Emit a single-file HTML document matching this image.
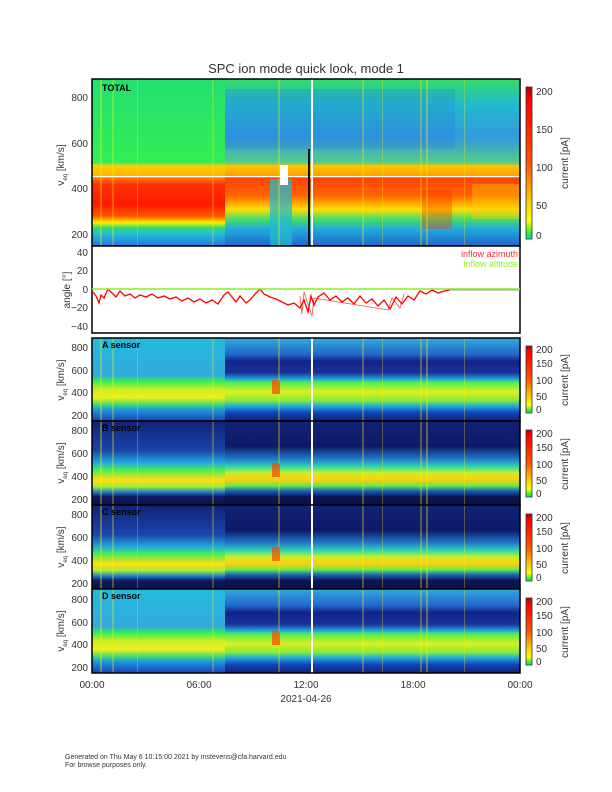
<!DOCTYPE html>
<html><head><meta charset="utf-8"><style>
html,body{margin:0;background:#fff;overflow:hidden;width:612px;height:792px}
svg{display:block}
text{font-family:"Liberation Sans",sans-serif;fill:#333}
</style></head><body>
<svg width="612" height="792" viewBox="0 0 612 792" xmlns="http://www.w3.org/2000/svg">
<defs>
<linearGradient id="tL" x1="0" y1="0" x2="0" y2="1">
<stop offset="0" stop-color="#22e070"/><stop offset="0.5" stop-color="#33ee55"/>
<stop offset="0.52" stop-color="#ffcc00"/><stop offset="0.58" stop-color="#ff9900"/>
<stop offset="0.63" stop-color="#ff3300"/><stop offset="0.75" stop-color="#ff1a00"/>
<stop offset="0.82" stop-color="#ff5500"/><stop offset="0.86" stop-color="#ffee00"/>
<stop offset="0.89" stop-color="#33dd66"/><stop offset="0.93" stop-color="#22bbdd"/>
<stop offset="1" stop-color="#2277dd"/></linearGradient>
<linearGradient id="tR" x1="0" y1="0" x2="0" y2="1">
<stop offset="0" stop-color="#33dd66"/><stop offset="0.15" stop-color="#22bbcc"/>
<stop offset="0.35" stop-color="#3399dd"/><stop offset="0.5" stop-color="#55cc88"/>
<stop offset="0.52" stop-color="#ffbb00"/><stop offset="0.6" stop-color="#ff4400"/>
<stop offset="0.7" stop-color="#ff6600"/><stop offset="0.78" stop-color="#ffdd00"/>
<stop offset="0.84" stop-color="#44dd66"/><stop offset="0.9" stop-color="#22aadd"/>
<stop offset="1" stop-color="#2266cc"/></linearGradient>
<linearGradient id="aL" x1="0" y1="0" x2="0" y2="1">
<stop offset="0" stop-color="#22bbdd"/><stop offset="0.45" stop-color="#33aadd"/>
<stop offset="0.52" stop-color="#33ee55"/><stop offset="0.62" stop-color="#ccee22"/>
<stop offset="0.72" stop-color="#eeee22"/><stop offset="0.8" stop-color="#44dd66"/>
<stop offset="0.86" stop-color="#2299dd"/><stop offset="1" stop-color="#1144bb"/></linearGradient>
<linearGradient id="aR" x1="0" y1="0" x2="0" y2="1">
<stop offset="0" stop-color="#33aadd"/><stop offset="0.2" stop-color="#2266cc"/>
<stop offset="0.28" stop-color="#112288"/><stop offset="0.42" stop-color="#1a3399"/>
<stop offset="0.5" stop-color="#22aadd"/><stop offset="0.53" stop-color="#44ee55"/>
<stop offset="0.65" stop-color="#ddee22"/><stop offset="0.75" stop-color="#88ee33"/>
<stop offset="0.82" stop-color="#22aadd"/><stop offset="0.9" stop-color="#1144bb"/>
<stop offset="1" stop-color="#112277"/></linearGradient>
<linearGradient id="bL" x1="0" y1="0" x2="0" y2="1">
<stop offset="0" stop-color="#112277"/><stop offset="0.35" stop-color="#1a44aa"/>
<stop offset="0.5" stop-color="#22aadd"/><stop offset="0.58" stop-color="#44ee55"/>
<stop offset="0.7" stop-color="#ffdd11"/><stop offset="0.78" stop-color="#aaee33"/>
<stop offset="0.84" stop-color="#2288cc"/><stop offset="0.9" stop-color="#111a66"/>
<stop offset="1" stop-color="#0a1044"/></linearGradient>
<linearGradient id="bR" x1="0" y1="0" x2="0" y2="1">
<stop offset="0" stop-color="#112277"/><stop offset="0.3" stop-color="#0d1a66"/>
<stop offset="0.45" stop-color="#2277cc"/><stop offset="0.55" stop-color="#33ddaa"/>
<stop offset="0.62" stop-color="#ccee22"/><stop offset="0.7" stop-color="#ffcc11"/>
<stop offset="0.77" stop-color="#66ee44"/><stop offset="0.83" stop-color="#1a66bb"/>
<stop offset="0.9" stop-color="#0d1555"/><stop offset="1" stop-color="#0a1044"/></linearGradient>
<linearGradient id="cb" x1="0" y1="0" x2="0" y2="1">
<stop offset="0" stop-color="#aa0000"/><stop offset="0.08" stop-color="#ff0000"/>
<stop offset="0.5" stop-color="#ff5500"/><stop offset="0.75" stop-color="#ffcc00"/>
<stop offset="0.88" stop-color="#ffff00"/><stop offset="0.96" stop-color="#33ee33"/>
<stop offset="1" stop-color="#00dd99"/></linearGradient>
<g id="streaks">
<rect x="8" y="0" width="2" height="84" fill="#ffee00" opacity="0.35"/>
<rect x="20" y="0" width="2" height="84" fill="#ffee00" opacity="0.3"/>
<rect x="45" y="0" width="1" height="84" fill="#ffee00" opacity="0.3"/>
<rect x="120" y="0" width="2" height="84" fill="#ffee00" opacity="0.25"/>
<rect x="186" y="0" width="2" height="84" fill="#ffee00" opacity="0.3"/>
<rect x="270" y="0" width="2" height="84" fill="#ffee00" opacity="0.3"/>
<rect x="290" y="0" width="1" height="84" fill="#ffee00" opacity="0.3"/>
<rect x="328" y="0" width="2" height="84" fill="#ffee00" opacity="0.3"/>
<rect x="334" y="0" width="2" height="84" fill="#ffee00" opacity="0.35"/>
<rect x="372" y="0" width="1" height="84" fill="#ffee00" opacity="0.3"/>
</g>
</defs>

<text x="306" y="73" font-size="13" text-anchor="middle" fill="#555">SPC ion mode quick look, mode 1</text>

<!-- TOTAL panel -->
<g transform="translate(92,79)">
<rect width="133" height="167" fill="url(#tL)"/>
<rect x="133" width="295" height="167" fill="url(#tR)"/>
<rect x="0" y="86" width="428" height="12" fill="#ffcc00" opacity="0.6"/>
<rect x="178" y="100" width="22" height="67" fill="#22bbcc" opacity="0.75"/>
<rect x="330" y="110" width="30" height="40" fill="#ff3300" opacity="0.35"/>
<rect x="380" y="105" width="48" height="35" fill="#ffcc00" opacity="0.4"/>
<rect x="133" y="10" width="230" height="60" fill="#2277dd" opacity="0.25"/>
<rect x="188" y="86" width="8" height="20" fill="#fff"/>
<rect x="0" y="97" width="428" height="1.2" fill="#fff"/>
<use href="#streaks" transform="scale(1,1.99)"/>
<rect x="219" y="0" width="2" height="167" fill="#fff"/>
<rect x="216" y="70" width="2" height="97" fill="#111"/>
<rect width="428" height="167" fill="none" stroke="#000" stroke-width="1.5"/>
<text x="10" y="12" font-size="9" font-weight="bold" style="fill:#000">TOTAL</text>
</g>

<!-- angle panel -->
<g>
<rect x="92" y="246" width="428" height="87" fill="#fff" stroke="#000" stroke-width="1.5"/>
<polyline fill="none" stroke="#f00" stroke-width="1.3" points="93,292 96,296 99,303 101,295 104,298 108,289 112,293 116,297 120,291 125,296 130,294 135,298 140,295 146,297 152,294 158,298 164,296 170,299 176,297 182,301 188,298 194,302 200,299 206,303 212,300 218,304 224,295 228,292 232,297 236,302 240,296 246,303 250,300 256,293 260,289 264,294 270,297 276,299 282,302 288,305 294,303 300,308 304,300 308,312 311,296 314,305 318,297 324,293 330,300 336,296 342,302 348,298 354,304 360,296 366,303 372,299 378,306 384,300 390,309 396,297 402,304 408,296 414,300 420,291 426,294 432,290 438,293 444,291 450,290"/>
<polyline fill="none" stroke="#f00" stroke-width="0.8" opacity="0.7" points="300,296 302,314 304,292 312,316 314,298 388,310 392,298 400,308 404,294"/>
<line x1="450" y1="290" x2="520" y2="290" stroke="#777" stroke-width="0.8"/>
<line x1="92" y1="289" x2="520" y2="289" stroke="#88ee22" stroke-width="1.5"/>
<text x="518" y="257" font-size="9" text-anchor="end" style="fill:#f33">inflow azimuth</text>
<text x="518" y="267" font-size="9" text-anchor="end" style="fill:#9e3">inflow altitude</text>
<g font-size="10" text-anchor="end">
<text x="88" y="256">40</text><text x="88" y="274">20</text><text x="88" y="293">0</text>
<text x="88" y="311">−20</text><text x="88" y="330">−40</text>
</g>
<text transform="translate(70,290) rotate(-90)" font-size="10" text-anchor="middle">angle [°]</text>
</g>

<!-- sensor panels -->
<g transform="translate(92,338)">
<rect width="133" height="83" fill="url(#aL)"/><rect x="133" width="295" height="83" fill="url(#aR)"/>
<use href="#streaks"/>
<rect x="180" y="42" width="8" height="14" fill="#ff4400" opacity="0.7"/>
<rect x="219" width="2" height="83" fill="#fff"/>
<rect width="428" height="83" fill="none" stroke="#000" stroke-width="1.5"/>
<text x="10" y="10" font-size="9" font-weight="bold" style="fill:#000">A sensor</text></g>
<g transform="translate(92,421)">
<rect width="133" height="84" fill="url(#bL)"/><rect x="133" width="295" height="84" fill="url(#bR)"/>
<use href="#streaks"/>
<rect x="180" y="42" width="8" height="14" fill="#ff4400" opacity="0.7"/>
<rect x="219" width="2" height="84" fill="#fff"/>
<rect width="428" height="84" fill="none" stroke="#000" stroke-width="1.5"/>
<text x="10" y="10" font-size="9" font-weight="bold" style="fill:#000">B sensor</text></g>
<g transform="translate(92,505)">
<rect width="133" height="84" fill="url(#bL)"/><rect x="133" width="295" height="84" fill="url(#bR)"/>
<use href="#streaks"/>
<rect x="180" y="42" width="8" height="14" fill="#ff4400" opacity="0.7"/>
<rect x="219" width="2" height="84" fill="#fff"/>
<rect width="428" height="84" fill="none" stroke="#000" stroke-width="1.5"/>
<text x="10" y="10" font-size="9" font-weight="bold" style="fill:#000">C sensor</text></g>
<g transform="translate(92,589)">
<rect width="133" height="84" fill="url(#aL)"/><rect x="133" width="295" height="84" fill="url(#aR)"/>
<use href="#streaks"/>
<rect x="180" y="42" width="8" height="14" fill="#ff4400" opacity="0.7"/>
<rect x="219" width="2" height="84" fill="#fff"/>
<rect width="428" height="84" fill="none" stroke="#000" stroke-width="1.5"/>
<text x="10" y="10" font-size="9" font-weight="bold" style="fill:#000">D sensor</text></g>

<!-- y labels -->
<g font-size="10" text-anchor="end">
<text x="88" y="101">800</text><text x="88" y="147">600</text><text x="88" y="192">400</text><text x="88" y="238">200</text>
<text x="88" y="351">800</text><text x="88" y="374">600</text><text x="88" y="396">400</text><text x="88" y="419">200</text>
<text x="88" y="434">800</text><text x="88" y="457">600</text><text x="88" y="480">400</text><text x="88" y="503">200</text>
<text x="88" y="518">800</text><text x="88" y="541">600</text><text x="88" y="564">400</text><text x="88" y="587">200</text>
<text x="88" y="603">800</text><text x="88" y="626">600</text><text x="88" y="648">400</text><text x="88" y="671">200</text>
</g>
<g font-size="10" text-anchor="middle">
<text transform="translate(64,165) rotate(-90)">v<tspan font-size="6" dy="3">eq</tspan><tspan dy="-3"> [km/s]</tspan></text>
<text transform="translate(64,380) rotate(-90)">v<tspan font-size="6" dy="3">eq</tspan><tspan dy="-3"> [km/s]</tspan></text>
<text transform="translate(64,463) rotate(-90)">v<tspan font-size="6" dy="3">eq</tspan><tspan dy="-3"> [km/s]</tspan></text>
<text transform="translate(64,547) rotate(-90)">v<tspan font-size="6" dy="3">eq</tspan><tspan dy="-3"> [km/s]</tspan></text>
<text transform="translate(64,631) rotate(-90)">v<tspan font-size="6" dy="3">eq</tspan><tspan dy="-3"> [km/s]</tspan></text>
</g>

<!-- colorbars -->
<g>
<rect x="526" y="87" width="6" height="152" fill="url(#cb)" stroke="#333" stroke-width="0.8"/>
<g font-size="10"><text x="536" y="95">200</text><text x="536" y="133">150</text><text x="536" y="171">100</text><text x="536" y="209">50</text><text x="536" y="239">0</text></g>
<text transform="translate(568,163) rotate(-90)" font-size="10" text-anchor="middle">current [pA]</text>
</g>
<g id="cbs">
<rect x="526" y="346" width="6" height="67" fill="url(#cb)" stroke="#333" stroke-width="0.8"/>
<g font-size="10"><text x="536" y="353">200</text><text x="536" y="367">150</text><text x="536" y="384">100</text><text x="536" y="400">50</text><text x="536" y="413">0</text></g>
<text transform="translate(568,380) rotate(-90)" font-size="10" text-anchor="middle">current [pA]</text>
</g>
<use href="#cbs" y="84"/><use href="#cbs" y="168"/><use href="#cbs" y="252"/>

<!-- x axis -->
<g font-size="10" text-anchor="middle">
<text x="92" y="688">00:00</text><text x="199" y="688">06:00</text><text x="306" y="688">12:00</text><text x="413" y="688">18:00</text><text x="520" y="688">00:00</text>
<text x="306" y="702">2021-04-26</text>
</g>
<text x="65" y="759" font-size="7">Generated on Thu May  6 10:15:00 2021 by mstevens@cfa.harvard.edu</text>
<text x="65" y="767" font-size="7">For browse purposes only.</text>
</svg>
</body></html>
